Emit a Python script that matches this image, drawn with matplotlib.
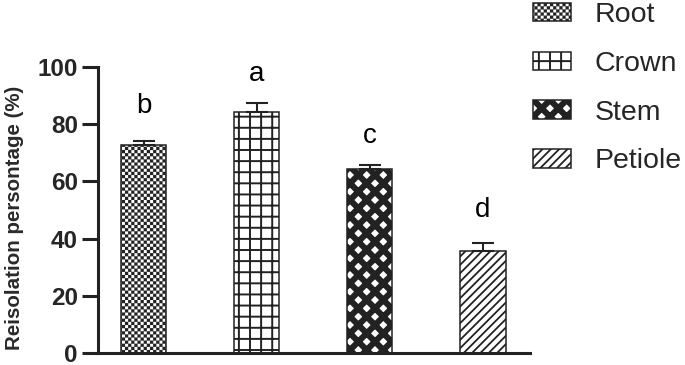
import numpy as np
import matplotlib
matplotlib.use("Agg")
import matplotlib.pyplot as plt
import matplotlib.hatch as mhatch
from matplotlib.path import Path

# data
tissues = ["Root", "Crown", "Stem", "Petiole"]
means = [72.7, 84.2, 64.3, 35.7]
sem = [1.4, 3.3, 1.4, 2.8]
letters = ["b", "a", "c", "d"]
letter_y = [83.9, 95.1, 73.4, 47.6]

patterns = ["*", "+", "xx", "////"]
pattern_lw = [0.1, 1.4, 4.4, 1.3]

INK = "#222222"


class GridHatch(mhatch.HatchPatternBase):
    """square grid, 9 cells per hatch tile"""
    def __init__(self, hatch, density):
        self.num_lines = hatch.count("+") * 9
        self.num_vertices = self.num_lines * 4

    def set_vertices_and_codes(self, vertices, codes):
        n = self.num_lines
        steps = (np.arange(n) + 0.5) / n
        vertices[0:2 * n:2] = np.column_stack([np.zeros(n), steps])
        vertices[1:2 * n:2] = np.column_stack([np.ones(n), steps])
        vertices[2 * n::2] = np.column_stack([steps, np.zeros(n)])
        vertices[2 * n + 1::2] = np.column_stack([steps, np.ones(n)])
        codes[0::2] = Path.MOVETO
        codes[1::2] = Path.LINETO


class CheckerHatch(mhatch.HatchPatternBase):
    """fine checkerboard"""
    def __init__(self, hatch, density):
        self.cells = hatch.count("*") * 32
        self.num_vertices = (self.cells ** 2 // 2) * 5

    def set_vertices_and_codes(self, vertices, codes):
        c = 1.0 / self.cells
        ii, jj = np.meshgrid(np.arange(self.cells), np.arange(self.cells))
        keep = (ii + jj) % 2 == 0
        origin = np.stack([ii[keep] * c, jj[keep] * c], axis=1)
        sq = np.array([[0, 0], [1, 0], [1, 1], [0, 1], [0, 0]]) * c
        vertices[:] = (sq[None, :, :] + origin[:, None, :]).reshape(-1, 2)
        cd = [Path.MOVETO, Path.LINETO, Path.LINETO, Path.LINETO, Path.CLOSEPOLY]
        codes[:] = np.tile(cd, len(origin))


mhatch._hatch_types = [t for t in mhatch._hatch_types
                       if t not in (mhatch.HorizontalHatch, mhatch.VerticalHatch, mhatch.Stars)]
mhatch._hatch_types += [GridHatch, CheckerHatch]

plt.rcParams["font.family"] = ["Liberation Sans", "DejaVu Sans"]

fig = plt.figure(figsize=(6.85, 3.65), dpi=100)
ax = fig.add_axes([0.1431, 0.0329, 0.6306, 0.7835])

x = np.arange(len(tissues))
bars = ax.bar(x, means, width=0.4, color="white", edgecolor=INK,
              linewidth=1.1, zorder=2)
for b, h, lw, name in zip(bars, patterns, pattern_lw, tissues):
    b.set_hatch(h)
    if hasattr(b, "set_hatch_linewidth"):
        b.set_hatch_linewidth(lw)
    b.set_label(name)

ax.errorbar(x, means, yerr=[np.zeros(len(sem)), sem], fmt="none",
            ecolor=INK, elinewidth=1.5, capsize=8, capthick=1.5, zorder=3)

for xi, lab, ly in zip(x, letters, letter_y):
    ax.text(xi, ly, lab, ha="center", va="baseline", fontsize=20, color="black")

ax.set_xlim(-0.403, 3.416)
ax.set_ylim(0, 100)
ax.set_yticks([0, 20, 40, 60, 80, 100])
ax.set_xticks([])
for side in ["top", "right"]:
    ax.spines[side].set_visible(False)
for side in ["left", "bottom"]:
    ax.spines[side].set_linewidth(2.2)
    ax.spines[side].set_color(INK)
ax.tick_params(axis="y", length=11.5, width=2.2, color=INK, pad=3,
               labelsize=17.5, labelcolor="#262626")
for t in ax.get_yticklabels():
    t.set_fontweight("bold")

ax.set_ylabel("Reisolation persontage (%)", fontsize=14.8, fontweight="bold",
              color="#2a2a2a")
ax.yaxis.set_label_coords(-0.172, 0.474)

leg = ax.legend(handles=list(bars), loc="upper left",
                bbox_to_anchor=(533 / 685, 1 - 2 / 365), bbox_transform=fig.transFigure,
                frameon=False, fontsize=20.5, handlelength=1.35, handleheight=0.62,
                handletextpad=0.82, labelspacing=0.8, borderpad=0, borderaxespad=0)
for t in leg.get_texts():
    t.set_color("#262626")
for lh, lw in zip(leg.legend_handles, pattern_lw):
    if hasattr(lh, "set_hatch_linewidth"):
        lh.set_hatch_linewidth(lw)

fig.savefig("out.png", dpi=100)
